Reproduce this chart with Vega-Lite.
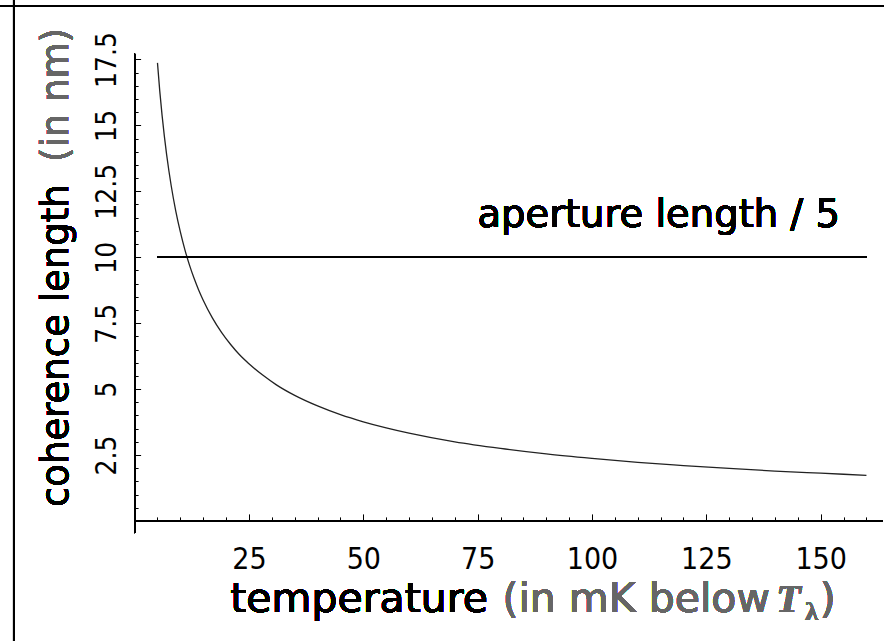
{
  "$schema": "https://vega.github.io/schema/vega-lite/v6.json",
  "width": 884,
  "height": 641,
  "padding": 0,
  "autosize": {"type": "none"},
  "background": "white",
  "config": {"view": {"stroke": null}},
  "resolve": {"axis": {"x": "independent", "y": "independent"}},
  "data": {"values": [
    {"t": 5, "xi": 17.37}, {"t": 5.5, "xi": 16.30}, {"t": 6, "xi": 15.39}, {"t": 6.5, "xi": 14.59},
    {"t": 7, "xi": 13.89}, {"t": 7.5, "xi": 13.27}, {"t": 8, "xi": 12.71}, {"t": 9, "xi": 11.75},
    {"t": 10, "xi": 10.96}, {"t": 11, "xi": 10.28}, {"t": 12, "xi": 9.70}, {"t": 13, "xi": 9.20},
    {"t": 14, "xi": 8.76}, {"t": 15, "xi": 8.37}, {"t": 17, "xi": 7.70}, {"t": 19, "xi": 7.15},
    {"t": 21, "xi": 6.69}, {"t": 23, "xi": 6.29}, {"t": 25, "xi": 5.96}, {"t": 28, "xi": 5.53},
    {"t": 31, "xi": 5.16}, {"t": 35, "xi": 4.76}, {"t": 40, "xi": 4.36}, {"t": 45, "xi": 4.03},
    {"t": 50, "xi": 3.76}, {"t": 55, "xi": 3.53}, {"t": 60, "xi": 3.33}, {"t": 70, "xi": 3.00},
    {"t": 80, "xi": 2.75}, {"t": 90, "xi": 2.54}, {"t": 100, "xi": 2.37}, {"t": 110, "xi": 2.22},
    {"t": 120, "xi": 2.10}, {"t": 130, "xi": 1.99}, {"t": 140, "xi": 1.89}, {"t": 150, "xi": 1.81},
    {"t": 160, "xi": 1.73}
  ]},
  "layer": [
    {
      "mark": {"type": "line", "color": "#222222", "strokeWidth": 1.3, "interpolate": "monotone"},
      "encoding": {
        "x": {"field": "t", "type": "quantitative",
          "scale": {"domain": [-29.43, 163.84], "nice": false, "zero": false},
          "axis": {
            "orient": "bottom", "offset": -120.1, "title": null, "domain": false, "grid": false,
            "values": [25, 50, 75, 100, 125, 150], "labelExpr": "'' + datum.value",
            "tickColor": "black", "tickWidth": 1, "tickSize": -7,
            "labelFont": "Liberation Sans Narrow, DejaVu Sans Condensed, Liberation Sans", "labelFontSize": 30, "labelColor": "black",
            "labelBaseline": "alphabetic", "labelAlign": "center", "labelPadding": 55,
            "labelOverlap": false, "labelFlush": false, "labelBound": false
          }},
        "y": {"field": "xi", "type": "quantitative",
          "scale": {"domain": [-4.554, 19.754], "nice": false, "zero": false},
          "axis": {
            "orient": "left", "offset": -134.6, "title": null, "domain": false, "grid": false,
            "values": [2.5, 5, 7.5, 10, 12.5, 15, 17.5], "labelExpr": "'' + datum.value",
            "tickColor": "black", "tickWidth": 1, "tickSize": -6,
            "labelFont": "Liberation Sans Narrow, DejaVu Sans Condensed, Liberation Sans", "labelFontSize": 28, "labelColor": "black",
            "labelAngle": 270, "labelBaseline": "alphabetic", "labelAlign": "center", "labelPadding": 25.6,
            "labelOverlap": false, "labelFlush": false, "labelBound": false
          }}
      }
    },
    {
      "mark": {"type": "rule", "color": "black", "strokeWidth": 1.5},
      "encoding": {
        "x": {"datum": 5, "type": "quantitative", "scale": {"domain": [-29.43, 163.84], "nice": false, "zero": false},
          "axis": {
            "orient": "bottom", "offset": -120.1, "title": null, "domain": false, "grid": false, "labels": false,
            "values": [5,10,15,20,30,35,40,45,55,60,65,70,80,85,90,95,105,110,115,120,130,135,140,145,155,160],
            "tickColor": "black", "tickWidth": 1, "tickSize": -4
          }},
        "x2": {"datum": 160},
        "y": {"datum": 10, "type": "quantitative", "scale": {"domain": [-4.554, 19.754], "nice": false, "zero": false},
          "axis": {
            "orient": "left", "offset": -134.6, "title": null, "domain": false, "grid": false, "labels": false,
            "values": [0.5,1,1.5,2,3,3.5,4,4.5,5.5,6,6.5,7,8,8.5,9,9.5,10.5,11,11.5,12,13,13.5,14,14.5,15.5,16,16.5,17],
            "tickColor": "black", "tickWidth": 1, "tickSize": -3.5
          }}
      }
    },
    {
      "mark": {"type": "rule", "color": "black", "strokeWidth": 1},
      "encoding": {
        "x": {"datum": 0, "type": "quantitative", "axis": null},
        "x2": {"datum": 163.5},
        "y": {"datum": 0, "type": "quantitative", "axis": null}
      }
    },
    {
      "mark": {"type": "rule", "color": "black", "strokeWidth": 1},
      "encoding": {
        "x": {"datum": 0, "type": "quantitative", "axis": null},
        "y": {"datum": -0.46, "type": "quantitative", "axis": null},
        "y2": {"datum": 17.71}
      }
    },
    {
      "mark": {"type": "rule", "color": "black", "strokeWidth": 2},
      "encoding": {
        "x": {"datum": -26.37, "type": "quantitative", "axis": null}
      }
    },
    {
      "mark": {"type": "rule", "color": "black", "strokeWidth": 2},
      "encoding": {
        "y": {"datum": 19.53, "type": "quantitative", "axis": null}
      }
    },
    {
      "mark": {"type": "text", "font": "DejaVu Sans", "fontSize": 38.5, "color": "black", "align": "center", "baseline": "alphabetic"},
      "encoding": {
        "x": {"datum": 114.6, "type": "quantitative", "axis": null},
        "y": {"datum": 11.145, "type": "quantitative", "axis": null},
        "text": {"value": "aperture length / 5"}
      }
    },
    {
      "mark": {"type": "text", "font": "DejaVu Sans", "fontSize": 41, "color": "black", "align": "left", "baseline": "alphabetic"},
      "encoding": {
        "x": {"datum": 20.9, "type": "quantitative", "axis": null},
        "y": {"datum": -3.45, "type": "quantitative", "axis": null},
        "text": {"value": "temperature"}
      }
    },
    {
      "mark": {"type": "text", "font": "DejaVu Sans", "fontSize": 41, "color": "#666666", "align": "right", "baseline": "alphabetic"},
      "encoding": {
        "x": {"datum": 138.9, "type": "quantitative", "axis": null},
        "y": {"datum": -3.45, "type": "quantitative", "axis": null},
        "text": {"value": "(in mK below"}
      }
    },
    {
      "mark": {"type": "text", "font": "Liberation Serif", "fontSize": 40, "fontStyle": "italic", "fontWeight": "bold", "color": "#666666", "align": "left", "baseline": "alphabetic"},
      "encoding": {
        "x": {"datum": 140.3, "type": "quantitative", "axis": null},
        "y": {"datum": -3.45, "type": "quantitative", "axis": null},
        "text": {"value": "T"}
      }
    },
    {
      "mark": {"type": "text", "font": "Liberation Serif", "fontSize": 26, "fontWeight": "bold", "color": "#666666", "align": "left", "baseline": "alphabetic"},
      "encoding": {
        "x": {"datum": 146.6, "type": "quantitative", "axis": null},
        "y": {"datum": -3.75, "type": "quantitative", "axis": null},
        "text": {"value": "λ"}
      }
    },
    {
      "mark": {"type": "text", "font": "DejaVu Sans", "fontSize": 41, "color": "#666666", "align": "left", "baseline": "alphabetic"},
      "encoding": {
        "x": {"datum": 149.8, "type": "quantitative", "axis": null},
        "y": {"datum": -3.45, "type": "quantitative", "axis": null},
        "text": {"value": ")"}
      }
    },
    {
      "mark": {"type": "text", "font": "DejaVu Sans", "fontSize": 37, "color": "black", "align": "left", "baseline": "alphabetic", "angle": 270},
      "encoding": {
        "x": {"datum": -14.56, "type": "quantitative", "axis": null},
        "y": {"datum": 0.527, "type": "quantitative", "axis": null},
        "text": {"value": "coherence length"}
      }
    },
    {
      "mark": {"type": "text", "font": "DejaVu Sans", "fontSize": 37, "color": "#666666", "align": "right", "baseline": "alphabetic", "angle": 270},
      "encoding": {
        "x": {"datum": -14.56, "type": "quantitative", "axis": null},
        "y": {"datum": 18.69, "type": "quantitative", "axis": null},
        "text": {"value": "(in nm)"}
      }
    }
  ]
}
